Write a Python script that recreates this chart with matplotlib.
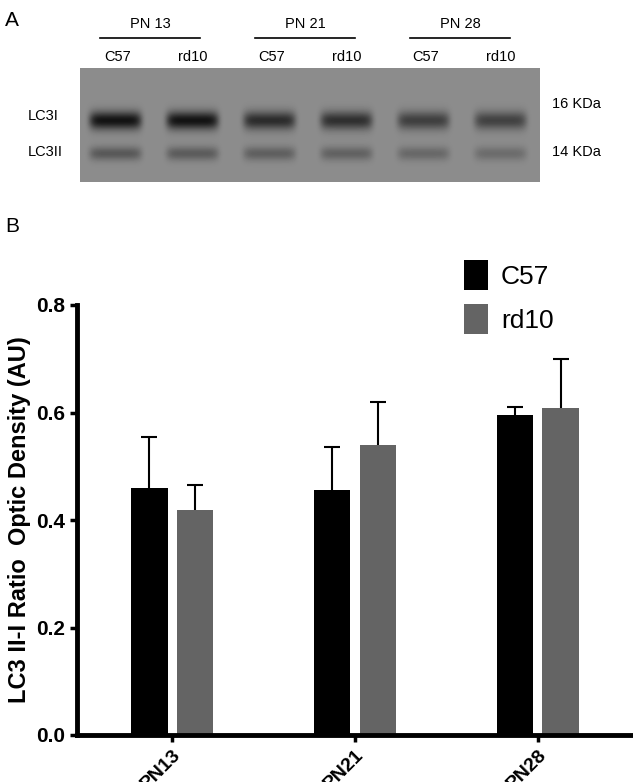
import numpy as np
import matplotlib.pyplot as plt

plt.rcParams["font.family"] = "Liberation Sans"

groups = ["PN13", "PN21", "PN28"]
c57 = [0.46, 0.455, 0.595]
c57_err = [0.095, 0.08, 0.015]
rd10 = [0.418, 0.54, 0.608]
rd10_err = [0.048, 0.08, 0.092]

# blot band darkness per lane (LC3I, LC3II)
lane_lc3i = [0.95, 0.95, 0.75, 0.72, 0.6, 0.58]
lane_lc3ii = [0.4, 0.38, 0.35, 0.33, 0.28, 0.25]
lane_names = ["C57", "rd10", "C57", "rd10", "C57", "rd10"]
blot_groups = ["PN 13", "PN 21", "PN 28"]

fig = plt.figure(figsize=(6.33, 7.82), dpi=100)
W, H = 633, 782


def fx(px):
    return px / W


def fy(py):
    return 1 - py / H


# ---- panel A: blot
axb = fig.add_axes([fx(80), fy(182), fx(460), (182 - 68) / H])
ny, nx = 114, 460
img = np.full((ny, nx), 0.55)
xx = np.arange(nx)
yy = np.arange(ny)[:, None]
for i in range(6):
    cx = 35 + i * 77
    prof = np.exp(-((xx - cx) / 26.0) ** 8)
    img -= lane_lc3i[i] * 0.5 * prof * np.exp(-((yy - 52) / 9.0) ** 2)
    img -= lane_lc3ii[i] * 0.5 * prof * np.exp(-((yy - 85) / 7.0) ** 2)
axb.imshow(np.clip(img, 0, 1), cmap="gray", vmin=0, vmax=1, aspect="auto")
axb.set_axis_off()

fig.text(fx(5), fy(20), "A", fontsize=15, va="center")
fig.text(fx(5), fy(226), "B", fontsize=15, va="center")
for g, name in enumerate(blot_groups):
    cx = 150 + g * 155
    fig.text(fx(cx), fy(24), name, fontsize=10.5, ha="center", va="center")
    fig.add_artist(plt.Line2D([fx(cx - 50), fx(cx + 50)], [fy(38), fy(38)],
                              color="k", lw=1.2))
for i, n in enumerate(lane_names):
    fig.text(fx(118 + i * 77 - (i % 2) * 2), fy(57), n, fontsize=10.5,
             ha="center", va="center")
fig.text(fx(28), fy(116), "LC3I", fontsize=10.5, va="center")
fig.text(fx(28), fy(152), "LC3II", fontsize=10.5, va="center")
fig.text(fx(552), fy(104), "16 KDa", fontsize=10.5, va="center")
fig.text(fx(552), fy(152), "14 KDa", fontsize=10.5, va="center")

# ---- panel B: bars
ax = fig.add_axes([fx(77), fy(735), 1 - fx(77), (735 - 305) / H])
x = np.arange(len(groups))
w = 0.2
ax.bar(x - 0.125, c57, w, color="black", label="C57")
ax.bar(x + 0.125, rd10, w, color="#646464", label="rd10")
for xs, vals, errs in [(x - 0.125, c57, c57_err), (x + 0.125, rd10, rd10_err)]:
    tops = np.array(vals) + np.array(errs)
    ax.vlines(xs, vals, tops, color="black", lw=1.5)
    ax.hlines(tops, xs - 0.045, xs + 0.045, color="black", lw=1.5)
ax.set_xlim(-0.52, 2.52)
ax.set_ylim(0, 0.8)
ax.set_yticks([0.0, 0.2, 0.4, 0.6, 0.8])
ax.set_yticklabels(["0.0", "0.2", "0.4", "0.6", "0.8"], fontsize=15,
                   fontweight="bold")
ax.set_xticks(x)
ax.set_xticklabels(groups, fontsize=14, fontweight="bold", rotation=45,
                   ha="right", rotation_mode="anchor")
for s in ["top", "right"]:
    ax.spines[s].set_visible(False)
for s in ["left", "bottom"]:
    ax.spines[s].set_linewidth(3.5)
ax.tick_params(width=2.5, length=5)
ax.set_ylabel("LC3 II-I Ratio  Optic Density (AU)", fontsize=17,
              fontweight="bold", labelpad=4)
ax.legend(loc="upper right", bbox_to_anchor=(0.9, 1.16), frameon=False,
          fontsize=19, handlelength=0.9, handleheight=1.4, labelspacing=0.5,
          handletextpad=0.5)

fig.savefig("out.png", dpi=100)
